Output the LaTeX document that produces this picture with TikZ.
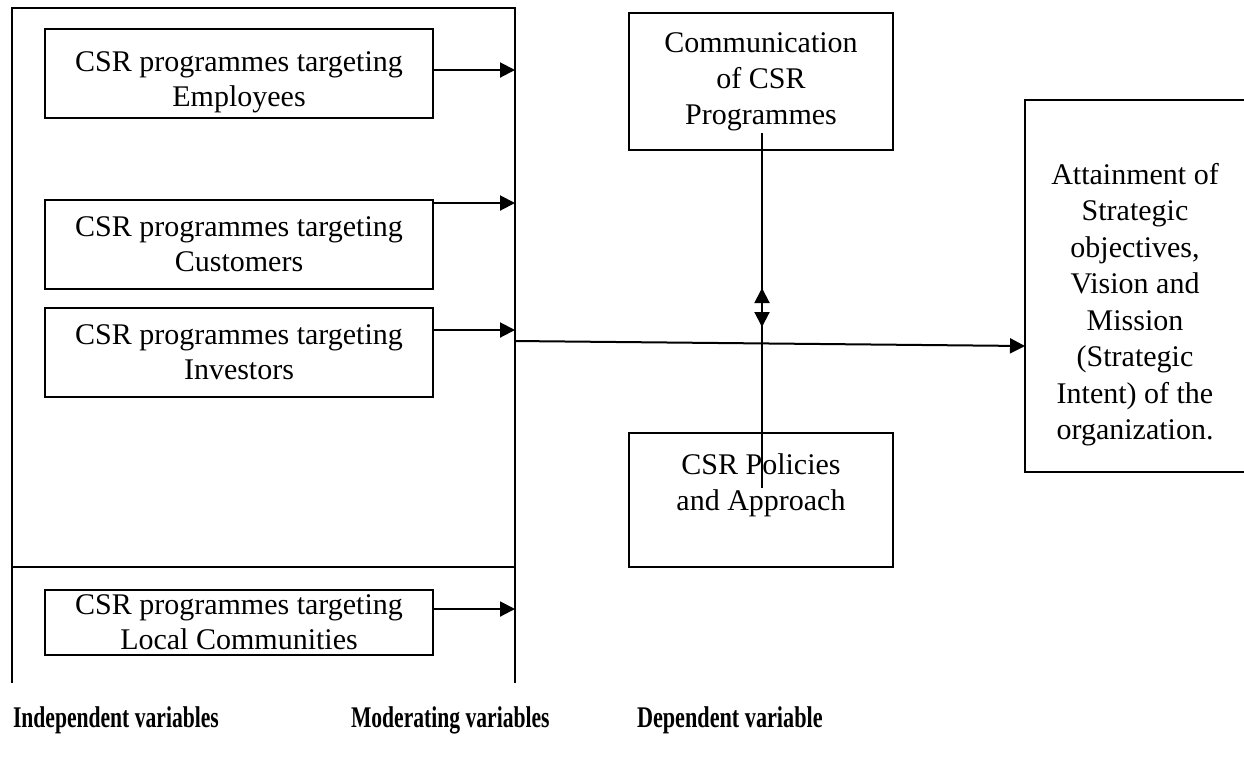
\documentclass[tikz,border=0pt]{standalone}
\usepackage{fontspec}
\setmainfont{Liberation Serif}
\usetikzlibrary{arrows.meta,positioning}

\tikzset{
  box/.style={draw, line width=0.8pt, align=center, inner sep=0pt, font=\fontsize{12}{14}\selectfont},
  prog/.style={box, minimum width=155.2pt, minimum height=35.6pt},
  txt/.style={align=center, inner sep=0pt, font=\fontsize{12}{14.6}\selectfont},
  arr/.style={-{Triangle[length=6pt,width=6pt]}, line width=0.8pt},
  head/.style={anchor=base west, inner sep=0pt, font=\fontsize{12}{14}\selectfont\bfseries}
}

\begin{document}
\begin{tikzpicture}[x=0.4pt, y=-0.4pt, line width=0.8pt]
  \useasboundingbox (0,0) rectangle (1244,768);

  % frame round the independent variables
  \draw (12,683) -- (12,8) -- (515,8) -- (515,683);
  \draw (12,567) -- (515,567);

  \node[prog, label={[txt, yshift=-3.6pt, font=\fontsize{12}{14}\selectfont]center:CSR programmes targeting\\Employees}] (emp) at (239,73.5) {};
  \node[prog] (cus) at (239,244) {CSR programmes targeting\\Customers};
  \node[prog] (inv) at (239,352) {CSR programmes targeting\\Investors};
  \node[prog, minimum height=26pt] (loc) at (239,622) {CSR programmes targeting\\Local Communities};

  \node[box, minimum width=105.6pt, minimum height=54.8pt, font=\fontsize{12}{14.4}\selectfont] (com) at (761,81.5) {Communication\\of CSR\\Programmes};
  \node[box, minimum width=105.6pt, minimum height=53.6pt,
        label={[txt, anchor=north, yshift=-8.4pt, font=\fontsize{12}{14.4}\selectfont]north:CSR Policies\\and Approach}] (pol) at (761,500) {};
  \node[box, minimum width=88pt, minimum height=148.8pt,
        label={[txt, anchor=north, yshift=-25.2pt]north:Attainment of\\Strategic\\objectives,\\Vision and\\Mission\\(Strategic\\Intent) of the\\organization.}] (att) at (1135,286) {};

  \coordinate (e1) at (515,70);
  \coordinate (e2) at (515,203);
  \coordinate (e3) at (515,330);
  \coordinate (e4) at (515,609);
  \draw[arr] (e1 -| emp.east) -- (e1);
  \draw[arr] (e2 -| cus.east) -- (e2);
  \draw[arr] (e3 -| inv.east) -- (e3);
  \draw[arr] (e4 -| loc.east) -- (e4);

  \coordinate (out) at (515,341);
  \coordinate (in) at (1025,346);
  \draw[arr] (out) -- (in);

  \coordinate (comlow) at (762,133);
  \coordinate (downtip) at (762,327);
  \coordinate (pollow) at (762,488);
  \coordinate (uptip) at (762,288);
  \draw[arr] (comlow) -- (downtip);
  \draw[arr] (pollow) -- (uptip);

  \node[head] (iv) at (12,727) {\scalebox{0.72}[1]{Independent variables}};
  \node[head] (mv) at (350,727) {\scalebox{0.72}[1]{Moderating variables}};
  \node[head] (dv) at (636,727) {\scalebox{0.74}[1]{Dependent variable}};
\end{tikzpicture}
\end{document}
